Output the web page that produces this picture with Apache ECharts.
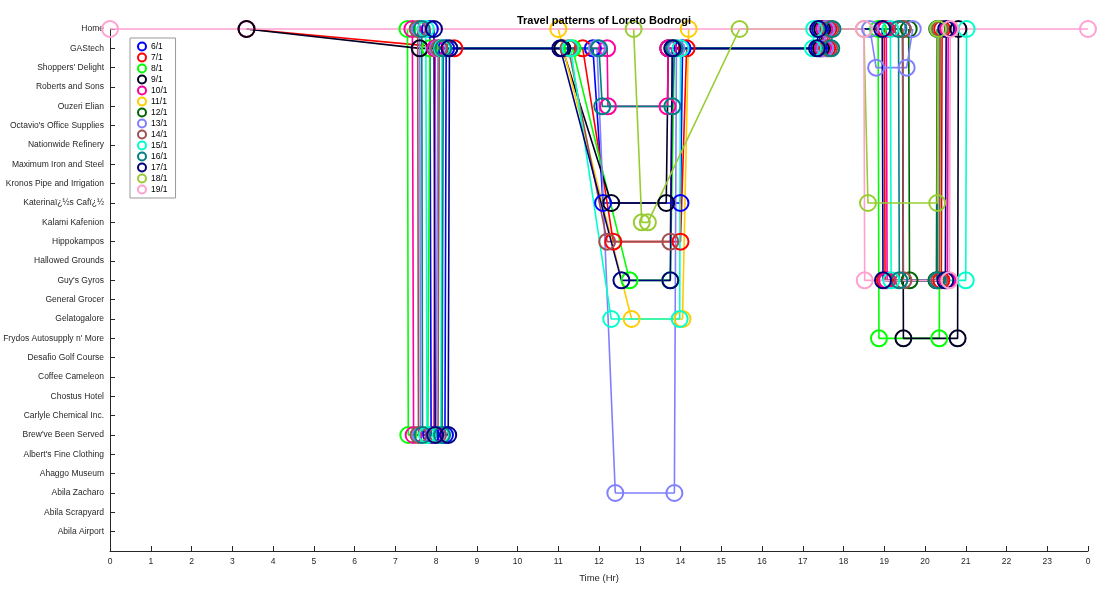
<!DOCTYPE html>
<html>
<head>
<meta charset="utf-8">
<script src="https://cdn.jsdelivr.net/npm/echarts@6/dist/echarts.min.js"></script>
<style>html,body{margin:0;padding:0;background:#fff;}#c{width:1104px;height:589px;}</style>
</head>
<body>
<div id="c"></div>
<script>
const locations = ["Home","GAStech","Shoppers' Delight","Roberts and Sons","Ouzeri Elian","Octavio's Office Supplies","Nationwide Refinery","Maximum Iron and Steel","Kronos Pipe and Irrigation","Katerinaï¿½s Cafï¿½","Kalami Kafenion","Hippokampos","Hallowed Grounds","Guy's Gyros","General Grocer","Gelatogalore","Frydos Autosupply n' More","Desafio Golf Course","Coffee Cameleon","Chostus Hotel","Carlyle Chemical Inc.","Brew've Been Served","Albert's Fine Clothing","Ahaggo Museum","Abila Zacharo","Abila Scrapyard","Abila Airport"];
const xTickLabels = ["0","1","2","3","4","5","6","7","8","9","10","11","12","13","14","15","16","17","18","19","20","21","22","23","0"];
const days = ["6/1","7/1","8/1","9/1","10/1","11/1","12/1","13/1","14/1","15/1","16/1","17/1","18/1","19/1"];
const dayColors = ["#0000ff","#ff0000","#00ff00","#000022","#ff00a0","#ffcc00","#006400","#8080ff","#a05050","#00ffcc","#008080","#000080","#99cc33","#ffa0d0"];

const H="Home", G="GAStech", S="Shoppers' Delight", O="Ouzeri Elian", K="Katerinaï¿½s Cafï¿½", KA="Kalami Kafenion",
      HP="Hippokampos", GG="Guy's Gyros", GL="Gelatogalore", F="Frydos Autosupply n' More", B="Brew've Been Served", Z="Abila Zacharo";

const trip_6_1  = [[7.85,H],[7.88,B],[8.22,B],[8.25,G],[11.85,G],[12.1,K],[14.0,K],[14.05,G],[17.4,G],[17.43,H]];
const trip_7_1  = [[3.35,H],[8.45,G],[11.6,G],[12.35,HP],[14.0,HP],[14.15,G],[17.6,G],[17.63,H],[19.0,H],[19.02,GG],[20.4,GG],[20.42,H]];
const trip_8_1  = [[7.3,H],[7.32,B],[7.8,B],[7.85,G],[11.35,G],[12.75,GG],[13.75,GG],[13.85,G],[17.45,G],[17.48,H],[18.85,H],[18.87,F],[20.35,F],[20.37,H]];
const trip_9_1  = [[3.35,H],[7.6,G],[11.1,G],[12.3,K],[13.65,K],[13.7,G],[17.45,G],[17.48,H],[19.45,H],[19.47,F],[20.8,F],[20.82,H]];
const trip_10_1 = [[7.42,H],[7.45,B],[7.95,B],[7.98,G],[12.2,G],[12.22,O],[13.68,O],[13.7,G],[17.5,G],[17.53,H],[19.05,H],[19.07,GG],[20.55,GG],[20.57,H]];
const trip_11_1 = [[11.0,H],[12.8,GL],[14.05,GL],[14.2,H]];
const trip_12_1 = [[19.6,H],[19.62,GG],[20.28,GG],[20.3,H]];
const trip_13_1 = [[7.6,H],[7.62,B],[8.0,B],[8.05,G],[11.95,G],[12.4,Z],[13.85,Z],[13.9,G],[17.55,G],[17.58,H],[18.65,H],[18.8,S],[19.55,S],[19.7,H]];
const trip_14_1 = [[7.55,H],[7.57,B],[8.05,B],[8.08,G],[11.25,G],[12.2,HP],[13.75,HP],[13.8,G],[17.65,G],[17.68,H],[19.45,H],[19.47,GG],[20.35,GG],[20.37,H]];
const trip_15_1 = [[7.75,H],[7.78,B],[8.12,B],[8.15,G],[11.3,G],[12.3,GL],[13.98,GL],[14.0,G],[17.25,G],[17.28,H],[19.15,H],[19.17,GG],[21.0,GG],[21.02,H]];
const trip_16_1 = [[7.65,H],[7.67,B],[8.15,B],[8.18,G],[12.0,G],[12.08,O],[13.8,O],[13.85,G],[17.7,G],[17.73,H],[19.35,H],[19.37,GG],[20.3,GG],[20.32,H]];
const trip_17_1 = [[7.95,H],[7.98,B],[8.3,B],[8.33,G],[11.05,G],[12.55,GG],[13.75,GG],[13.8,G],[17.35,G],[17.38,H],[18.95,H],[18.97,GG],[20.5,GG],[20.52,H]];
const trip_18_1 = [[12.85,H],[13.05,KA],[13.2,KA],[15.45,H],[18.5,H],[18.6,K],[20.3,K],[20.32,H]];
const trip_19_1 = [[0,H],[18.5,H],[18.52,GG],[20.6,GG],[20.62,H],[24,H]];

const trips = [trip_6_1,trip_7_1,trip_8_1,trip_9_1,trip_10_1,trip_11_1,trip_12_1,trip_13_1,trip_14_1,trip_15_1,trip_16_1,trip_17_1,trip_18_1,trip_19_1];

const axisCol = '#262626';
const series = days.map((d,i)=>({
  name: d,
  type: 'line',
  clip: false,
  symbol: 'circle',
  symbolSize: 16,
  showAllSymbol: true,
  data: trips[i].map(p=>[p[0], locations.indexOf(p[1])]),
  lineStyle: {color: dayColors[i], width: 1.6},
  itemStyle: {color: 'rgba(255,255,255,0)', borderColor: dayColors[i], borderWidth: 2},
  emphasis: {disabled: true},
  animation: false
}));

const chart = echarts.init(document.getElementById('c'), null, {renderer:'canvas'});
chart.setOption({
  animation: false,
  backgroundColor: '#fff',
  title: {
    text: 'Travel patterns of Loreto Bodrogi',
    left: 599, top: 10, textAlign: 'center',
    textStyle: {fontFamily: 'Liberation Sans', fontSize: 11, fontWeight: 'bold', color: '#000'}
  },
  legend: {
    orient: 'vertical', left: 130, top: 38,
    data: days,
    icon: 'circle',
    itemWidth: 8, itemHeight: 8, itemGap: 0,
    padding: [3, 8, 3, 7],
    borderColor: '#999', borderWidth: 1, backgroundColor: '#fff',
    itemStyle: {borderWidth: 2},
    textStyle: {fontFamily: 'Liberation Sans', fontSize: 8.5, lineHeight: 11, color: '#000'}
  },
  grid: {left: 110, right: 16, top: 29, bottom: 38, containLabel: false, outerBoundsMode: 'none'},
  xAxis: {
    type: 'value', min: 0, max: 24, interval: 1,
    name: 'Time (Hr)', nameLocation: 'middle', nameGap: 22,
    nameTextStyle: {fontFamily: 'Liberation Sans', fontSize: 9.5, color: axisCol},
    axisLine: {show: true, onZero: false, lineStyle: {color: axisCol, width: 1}},
    axisTick: {show: true, inside: true, length: 5, lineStyle: {color: axisCol}},
    axisLabel: {fontFamily: 'Liberation Sans', fontSize: 8.5, color: axisCol, margin: 6,
      formatter: v => xTickLabels[Math.round(v)]},
    splitLine: {show: false}
  },
  yAxis: {
    type: 'value', min: 0, max: 27, interval: 1, inverse: true,
    axisLine: {show: true, onZero: false, lineStyle: {color: axisCol, width: 1}},
    axisTick: {show: true, inside: true, length: 5, lineStyle: {color: axisCol}},
    axisLabel: {fontFamily: 'Liberation Sans', fontSize: 8.5, color: axisCol, margin: 6,
      formatter: v => locations[Math.round(v)] || ''},
    splitLine: {show: false}
  },
  series: series
});
</script>
</body>
</html>
